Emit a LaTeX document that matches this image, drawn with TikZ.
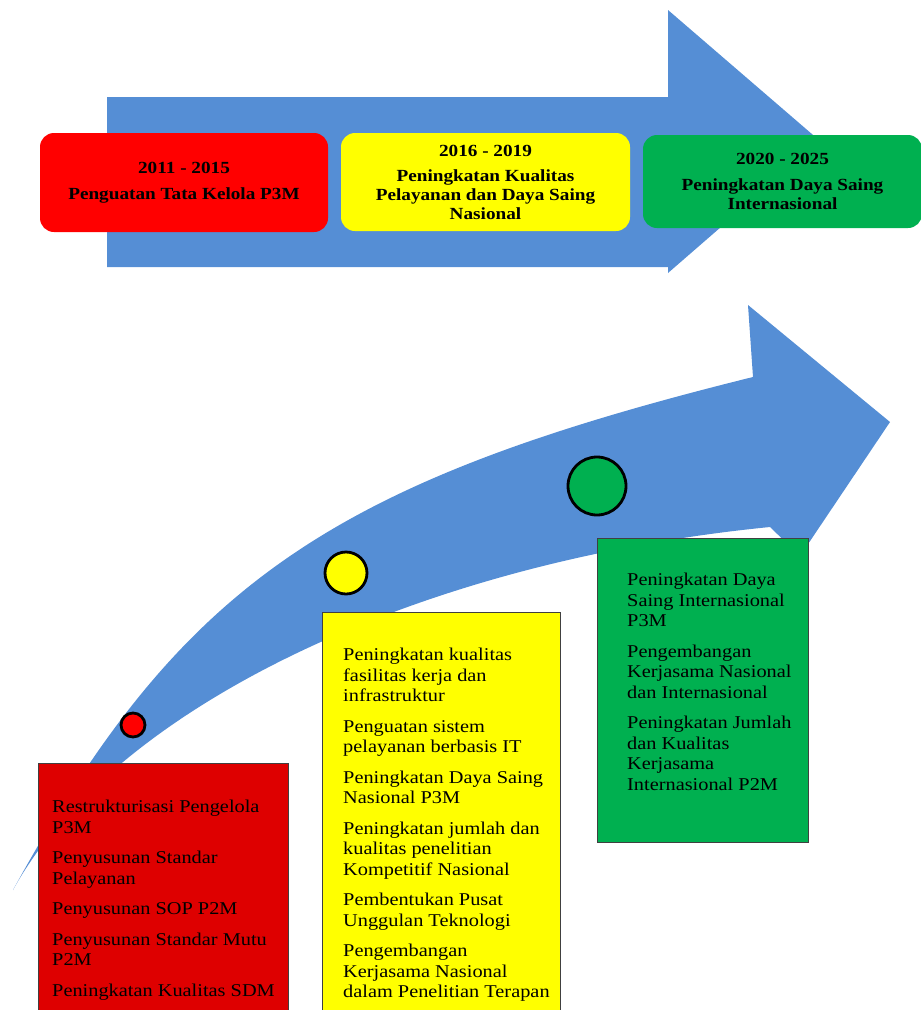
\documentclass[tikz,border=0pt]{standalone}
\usepackage{fontspec}
\setmainfont{Liberation Serif}[FakeStretch=1.13]
\usetikzlibrary{positioning}

\definecolor{arrowblue}{RGB}{85,142,213}
\definecolor{phasered}{RGB}{255,0,0}
\definecolor{phaseyellow}{RGB}{255,255,0}
\definecolor{phasegreen}{RGB}{0,176,80}
\definecolor{boxred}{RGB}{222,0,0}

\begin{document}
\begin{tikzpicture}[
    x=1pt, y=-1pt,
    phase/.style={rectangle, rounded corners=14pt, inner sep=0pt, align=center, font=\fontsize{17}{19}\selectfont\bfseries},
    stage/.style={rectangle, draw=black!75, line width=1.2pt, inner sep=0pt, anchor=north west},
    items/.style={inner sep=0pt, align=left, font=\fontsize{18}{20.5}\selectfont},
    milestone/.style={circle, draw=black, line width=2.8pt, inner sep=0pt}
  ]
    \useasboundingbox (0,0) rectangle (921,1010);

    \fill[arrowblue] (107,97) -- (668,97) -- (668,10) -- (820,141) -- (668,273) -- (668,267) -- (107,267) -- cycle;

    \node[phase, fill=phasered, minimum width=288pt, minimum height=99pt] (early) at (184,182.5) {
      2011 - 2015\\[7pt]
      Penguatan Tata Kelola P3M
    };

    \node[phase, fill=phaseyellow, minimum width=289pt, minimum height=98pt] (middle) at (485.5,182) {
      2016 - 2019\\[6pt]
      Peningkatan Kualitas\\
      Pelayanan dan Daya Saing\\
      Nasional
    };

    \node[phase, fill=phasegreen, minimum width=279pt, minimum height=93pt] (late) at (782.5,181.5) {
      2020 - 2025\\[7pt]
      Peningkatan Daya Saing\\
      Internasional
    };

    \fill[arrowblue] (13,890) .. controls (181,584) and (329,482) .. (753,377) -- (748,305) -- (890,422)
      -- (800,556) -- (770,527) .. controls (416,562) and (113,708) .. (13,890) -- cycle;

    \node[milestone, fill=phasered, minimum size=24pt] (dotred) at (133,725) {};
    \node[milestone, fill=phaseyellow, minimum size=42pt] (dotyellow) at (346,573) {};
    \node[milestone, fill=phasegreen, minimum size=58pt] (dotgreen) at (597,486) {};

    \node[stage, fill=boxred, minimum width=250pt, minimum height=252pt] (redbox) at (38,763) {};
    \node[stage, fill=phaseyellow, minimum width=238pt, minimum height=400pt] (yellowbox) at (322,612) {};
    \node[stage, fill=phasegreen, minimum width=211pt, minimum height=304pt] (greenbox) at (597,538) {};

    \node[items, below right=37pt and 14pt of redbox.north west] (redlist) {
      Restrukturisasi Pengelola\\
      P3M\\[10pt]
      Penyusunan Standar\\
      Pelayanan\\[10pt]
      Penyusunan SOP P2M\\[10pt]
      Penyusunan Standar Mutu\\
      P2M\\[10pt]
      Peningkatan Kualitas SDM
    };

    \node[items, below right=36pt and 21pt of yellowbox.north west] (yellowlist) {
      Peningkatan kualitas\\
      fasilitas kerja dan\\
      infrastruktur\\[10pt]
      Penguatan sistem\\
      pelayanan berbasis IT\\[10pt]
      Peningkatan Daya Saing\\
      Nasional P3M\\[10pt]
      Peningkatan jumlah dan\\
      kualitas penelitian\\
      Kompetitif Nasional\\[10pt]
      Pembentukan Pusat\\
      Unggulan Teknologi\\[10pt]
      Pengembangan\\
      Kerjasama Nasional\\
      dalam Penelitian Terapan
    };

    \node[items, below right=35pt and 30pt of greenbox.north west] (greenlist) {
      Peningkatan Daya\\
      Saing Internasional\\
      P3M\\[10pt]
      Pengembangan\\
      Kerjasama Nasional\\
      dan Internasional\\[10pt]
      Peningkatan Jumlah\\
      dan Kualitas\\
      Kerjasama\\
      Internasional P2M
    };
  \end{tikzpicture}
\end{document}
